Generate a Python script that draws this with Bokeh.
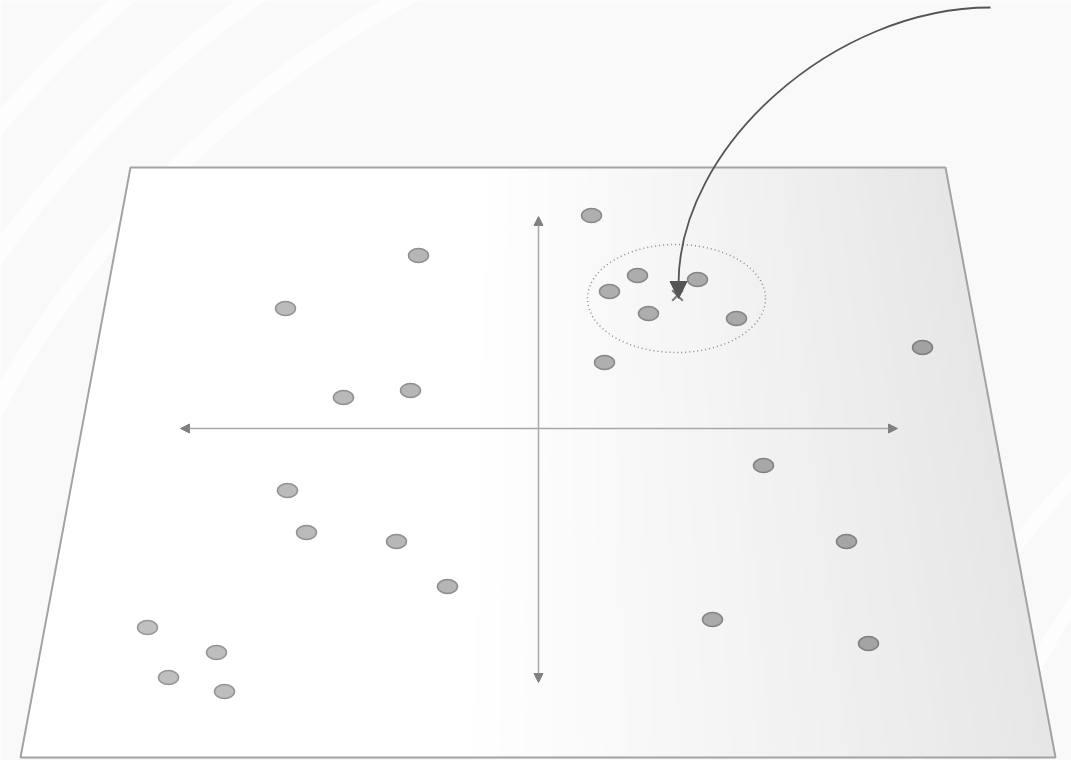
from bokeh.plotting import figure
from bokeh.models import Range1d, Arrow, NormalHead, ColumnDataSource
from bokeh.embed import file_html
from bokeh.resources import INLINE

# --- data (pixel coordinates of the illustration) ---
point_x = [591, 418, 285, 637, 697, 609, 648, 736, 922, 604, 343, 410,
           763, 287, 306, 396, 846, 447, 712, 868, 147, 216, 168, 224]
point_y = [215, 255, 308, 275, 279, 291, 313, 318, 347, 362, 397, 390,
           465, 490, 532, 541, 541, 586, 619, 643, 627, 652, 677, 691]
centroid_x = [677]
centroid_y = [295]
plane_x = [130, 945, 1055, 20]
plane_y = [167, 167, 757, 757]

W, H = 1071, 760
p = figure(width=W, height=H, x_range=Range1d(0, W), y_range=Range1d(H, 0),
           output_backend="svg", toolbar_location=None, min_border=0)
p.axis.visible = False
p.grid.visible = False
p.outline_line_color = None
p.background_fill_color = "#f9f9f9"
p.border_fill_color = "#f9f9f9"

# faint background swirl arcs
for r in [1190, 1110, 1030]:
    p.circle(x=[900], y=[900], radius=r, fill_alpha=0, line_color="white", line_width=18, line_alpha=0.6)
for r in [520, 600]:
    p.circle(x=[1500], y=[900], radius=r, fill_alpha=0, line_color="white", line_width=14, line_alpha=0.6)

# plane with horizontal gradient (strips)
N = 80
xs, ys, cols = [], [], []
for i in range(N):
    u0, u1 = i / N, (i + 1) / N
    tx0 = plane_x[0] + (plane_x[1] - plane_x[0]) * u0
    tx1 = plane_x[0] + (plane_x[1] - plane_x[0]) * u1 + 0.6
    bx0 = plane_x[3] + (plane_x[2] - plane_x[3]) * u0
    bx1 = plane_x[3] + (plane_x[2] - plane_x[3]) * u1 + 0.6
    xs.append([tx0, tx1, bx1, bx0])
    ys.append([plane_y[0], plane_y[1], plane_y[2], plane_y[3]])
    um = (u0 + u1) / 2
    t = max(0.0, (um - 0.42) / 0.58)
    g = int(round(255 - 25 * t ** 1.1))
    cols.append("#%02x%02x%02x" % (g, g, g))
p.patches(xs, ys, fill_color=cols, line_color=None)
p.patch(plane_x + [plane_x[0]], plane_y + [plane_y[0]], fill_alpha=0,
        line_color="#a3a3a3", line_width=2)

# axes arrows
axis_col = "#a8a8a8"
head = dict(size=9, fill_color="#808080", line_color="#808080")
for xe, ye in [(897, 428), (180, 428), (538, 216), (538, 682)]:
    p.add_layout(Arrow(x_start=538, y_start=428, x_end=xe, y_end=ye, line_color=axis_col,
                       line_width=1.5, end=NormalHead(**head), start=None))

# dotted cluster circle
p.ellipse(x=[676], y=[298], width=178, height=108, fill_alpha=0,
          line_color="#8a8a8a", line_width=1.5, line_dash="1 3")

# points, darker towards the right
fills, lines = [], []
for x in point_x:
    t = min(1.0, max(0.0, (x - 150) / 780))
    g = int(round(192 - 30 * t))
    l = int(round(150 - 25 * t))
    fills.append("#%02x%02x%02x" % (g, g, g))
    lines.append("#%02x%02x%02x" % (l, l, l))
src = ColumnDataSource(dict(x=point_x, y=point_y, f=fills, l=lines))
p.ellipse(x="x", y="y", width=20, height=14, fill_color="f", line_color="l", line_width=1.5, source=src)

# centroid cross
p.scatter(x=centroid_x, y=centroid_y, marker="x", size=15, line_color="#7a7a7a", line_width=2)

# curved pointer arrow
p.bezier(x0=[990], y0=[7], x1=[678], y1=[284], cx0=[835], cy0=[7], cx1=[678], cy1=[145],
         line_color="#555555", line_width=1.8)
p.add_layout(Arrow(x_start=678, y_start=282, x_end=678, y_end=298, line_color="#555555", line_width=1.8,
                   end=NormalHead(size=17, fill_color="#555555", line_color="#555555")))

open("out.html", "w").write(file_html(p, INLINE))
